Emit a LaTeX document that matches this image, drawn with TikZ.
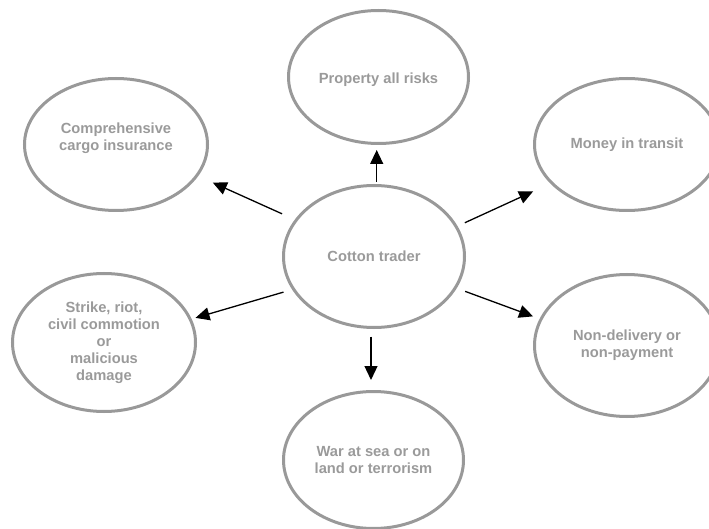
\documentclass[tikz,border=0pt]{standalone}
\usepackage{fontspec}
\setmainfont{Liberation Sans}
\usetikzlibrary{shapes.geometric,arrows.meta}
\definecolor{ringgray}{HTML}{999999}
\definecolor{textgray}{HTML}{9A9A9A}
\begin{document}
\begin{tikzpicture}[x=1pt,y=-1pt,
  txt/.style={inner sep=0pt, align=center, text=textgray, font=\fontsize{14.7}{17}\selectfont\bfseries},
  bubble/.style={ellipse, draw=ringgray, line width=3pt, txt},
  arr/.style={-{Triangle[length=14pt,width=13pt]}, line width=1.3pt, draw=black}]
\useasboundingbox (0,0) rectangle (709,529);
\clip (0,0) rectangle (709,529);
\node[bubble, minimum width=181pt, minimum height=142pt] (c) at (374,256.5) {Cotton trader};
\node[bubble, minimum width=180pt, minimum height=133pt,
  label={[txt, yshift=-3pt]center:Property all risks}] (p) at (378.5,77) {};
\node[bubble, minimum width=183pt, minimum height=132pt,
  label={[txt, yshift=6pt]center:{Comprehensive\\cargo insurance}}] (ci) at (116,144.5) {};
\node[bubble, minimum width=185pt, minimum height=132pt] (m) at (627,144.5) {Money in transit};
\node[bubble, minimum width=183pt, minimum height=138pt] (s) at (104,342.5) {Strike, riot,\\civil commotion\\or\\malicious\\damage};
\node[bubble, minimum width=185pt, minimum height=142pt] (n) at (627,345.5) {Non-delivery or\\non-payment};
\node[bubble, minimum width=180pt, minimum height=137pt] (w) at (373.5,460) {War at sea or on\\land or terrorism};
\draw[arr, shorten <=2pt, shorten >=5pt] ([xshift=2.7pt]c.north) -- ([xshift=2.7pt]c.north |- p.south);
\draw[arr, shorten <=14pt, shorten >=16pt] (c.155.2) -- (ci.-21.1);
\draw[arr, shorten <=8pt, shorten >=19pt] (c.20.2) -- (m.-153.2);
\draw[arr, shorten <=9pt, shorten >=4pt] (c.-158.7) -- (s.15.65);
\draw[arr, shorten <=9pt, shorten >=7pt] (c.-21.3) -- (n.163.1);
\draw[arr, shorten <=7.5pt, shorten >=10pt] ([xshift=-3pt]c.south) -- ([xshift=-3pt]c.south |- w.north);
\end{tikzpicture}
\end{document}
